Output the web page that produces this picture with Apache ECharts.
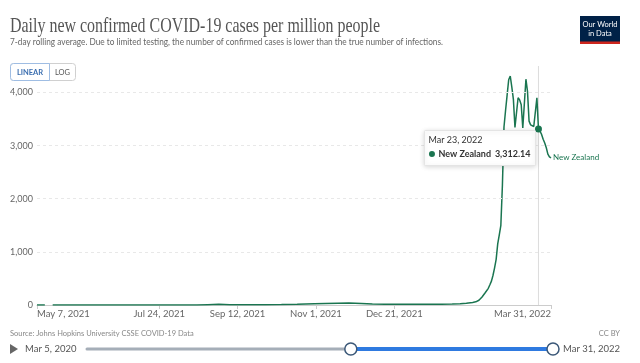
<!DOCTYPE html>
<html><head><meta charset="utf-8">
<script src="https://cdn.jsdelivr.net/npm/echarts@6/dist/echarts.min.js"></script>
<style>html,body{margin:0;padding:0;background:#fff}#c{width:640px;height:363px}</style>
</head><body><div id="c"></div>
<script>
// ---------------- DATA ----------------
const seriesName = 'New Zealand';
const dates = [
 '2021-05-07','2021-05-12','2021-05-14','2021-05-17','2021-06-01','2021-06-20','2021-07-10','2021-07-24',
 '2021-08-10','2021-08-17','2021-08-24','2021-08-31','2021-09-07','2021-09-12','2021-09-20','2021-09-30',
 '2021-10-10','2021-10-20','2021-10-31','2021-11-07','2021-11-15','2021-11-22','2021-11-30','2021-12-07',
 '2021-12-15','2021-12-21','2021-12-31','2022-01-10','2022-01-20','2022-01-27','2022-02-01','2022-02-05',
 '2022-02-09','2022-02-11','2022-02-13','2022-02-15','2022-02-17','2022-02-19','2022-02-20','2022-02-21',
 '2022-02-22','2022-02-23','2022-02-24','2022-02-25','2022-02-26','2022-02-27','2022-02-28','2022-03-01',
 '2022-03-02','2022-03-03','2022-03-04','2022-03-05','2022-03-06','2022-03-07','2022-03-08','2022-03-09',
 '2022-03-10','2022-03-11','2022-03-12','2022-03-13','2022-03-14','2022-03-15','2022-03-16','2022-03-17',
 '2022-03-18','2022-03-19','2022-03-20','2022-03-21','2022-03-22','2022-03-23','2022-03-24','2022-03-25',
 '2022-03-26','2022-03-27','2022-03-28','2022-03-29','2022-03-30','2022-03-31'
];
const values = [
 0.5, 0.4, null, 0.4, 0.3, 0.4, 0.5, 0.3,
 0.4, 0.5, 6, 12, 5, 4, 4, 5,
 8, 15, 25, 30, 35, 36, 30, 18,
 16, 15, 12, 14, 15, 20, 25, 35,
 48, 60, 90, 150, 230, 314, 380, 450,
 560, 700, 860, 1150, 1320, 1500, 2260, 3350,
 3660, 3950, 4240, 4310, 4100, 3870, 3340, 3330,
 3900, 3860, 3770, 3330, 3340, 4250, 4020, 3460,
 3390, 3370, 3360, 3350, 3900, 3312.14, 3270, 3210,
 3120, 3050, 2960, 2840, 2790, 2770
];
const xTickDates = ['2021-05-07','2021-07-24','2021-09-12','2021-11-01','2021-12-21','2022-03-31'];
const yTicks = [0, 1000, 2000, 3000, 4000];
const xMin = '2021-05-07', xMax = '2022-03-31';
const tooltipDate = '2022-03-23';
const timelineMin = '2020-03-05', timelineMax = '2022-03-31';

// ---------------- HELPERS ----------------
const MONTHS = ['Jan','Feb','Mar','Apr','May','Jun','Jul','Aug','Sep','Oct','Nov','Dec'];
function ts(s){ const p = s.split('-').map(Number); return new Date(p[0], p[1]-1, p[2]).getTime(); }
function fmtDate(t){ const d = new Date(t); return MONTHS[d.getMonth()] + ' ' + d.getDate() + ', ' + d.getFullYear(); }
function measure(text, font){ const c = document.createElement('canvas').getContext('2d'); c.font = font; return c.measureText(text).width; }

const LINE = '#1a7550';
const FONT = 'Lato';
const yMax = Math.max.apply(null, values.filter(v => v != null));
const data = dates.map((d, i) => [ts(d), values[i]]);

const chart = echarts.init(document.getElementById('c'), null, {renderer: 'canvas'});
chart.setOption({
  animation: false,
  backgroundColor: '#fff',
  grid: {left: 37, right: 89, top: 76, bottom: 58, containLabel: false, outerBoundsMode: 'none'},
  xAxis: {
    type: 'value', min: ts(xMin), max: ts(xMax), scale: true,
    axisLine: {show: true, lineStyle: {color: '#ccc', width: 1}},
    axisTick: {show: true, length: 4, customValues: xTickDates.map(ts), lineStyle: {color: '#ccc'}},
    axisLabel: {customValues: xTickDates.map(ts), formatter: v => fmtDate(v), color: '#666',
      fontFamily: FONT, fontSize: 9.5, margin: 4, alignMinLabel: 'left', alignMaxLabel: 'right',
      hideOverlap: false},
    splitLine: {show: false}
  },
  yAxis: {
    type: 'value', min: 0, max: yMax, interval: 1000,
    axisLine: {show: false}, axisTick: {show: false},
    axisLabel: {showMaxLabel: false, formatter: v => v.toLocaleString('en-US'), color: '#666',
      fontFamily: FONT, fontSize: 9, margin: 4},
    splitLine: {show: false}
  },
  series: [{
    name: seriesName, type: 'line', data: data, showSymbol: false, connectNulls: false,
    lineStyle: {color: LINE, width: 1.5}, itemStyle: {color: LINE},
    endLabel: {show: true, formatter: seriesName, color: LINE, fontFamily: FONT, fontSize: 8, distance: 2},
    markLine: {
      silent: true, symbol: 'none', label: {show: false}, animation: false,
      lineStyle: {color: '#e8e8e8', type: [3, 3], width: 1},
      data: yTicks.filter(v => v > 0).map(v => ({yAxis: v}))
    },
    z: 3
  }]
});

// ---------------- OVERLAYS ----------------
const tipVal = values[dates.indexOf(tooltipDate)];
const P = chart.convertToPixel({gridIndex: 0}, [ts(tooltipDate), tipVal]);
const base = chart.convertToPixel({gridIndex: 0}, [ts(tooltipDate), 0]);

const titleText = 'Daily new confirmed COVID-19 cases per million people';
const titleFont = '21px "Liberation Serif"';
const titleScale = 370 / measure(titleText, titleFont);
const subText = '7-day rolling average. Due to limited testing, the number of confirmed cases is lower than the true number of infections.';
const subFont = '9px Lato';
const subScale = 433 / measure(subText, subFont);

const tlX0 = 87, tlX1 = 553, tlY = 349;
function tlPos(s){ return tlX0 + (ts(s) - ts(timelineMin)) / (ts(timelineMax) - ts(timelineMin)) * (tlX1 - tlX0); }
const hL = tlPos(xMin), hR = tlPos(xMax);

const bx = P[0] - 114, by = P[1] + 1.5;
const graphics = [
  {type: 'text', x: 10, y: 26, scaleX: titleScale, z: 10,
   style: {text: titleText, font: titleFont, fill: '#555', verticalAlign: 'middle'}},
  {type: 'text', x: 10, y: 42, scaleX: subScale, z: 10,
   style: {text: subText, font: subFont, fill: '#666', verticalAlign: 'middle'}},
  {type: 'rect', shape: {x: 10.5, y: 63.5, width: 65, height: 17, r: 3}, style: {fill: '#fff', stroke: '#d0d0d0', lineWidth: 1}, z: 10},
  {type: 'rect', shape: {x: 10.5, y: 63.5, width: 39, height: 17, r: [3, 0, 0, 3]}, style: {fill: '#fff', stroke: '#9fbde3', lineWidth: 1}, z: 11},
  {type: 'text', x: 30, y: 72.5, z: 12, style: {text: 'LINEAR', font: 'bold 7.5px Lato', fill: '#3c6fb0', align: 'center', verticalAlign: 'middle'}},
  {type: 'text', x: 62.5, y: 72.5, z: 12, style: {text: 'LOG', font: '7.5px Lato', fill: '#555', align: 'center', verticalAlign: 'middle'}},
  {type: 'rect', shape: {x: 580, y: 16, width: 40, height: 28}, style: {fill: '#002147'}, z: 10},
  {type: 'rect', shape: {x: 580, y: 41.5, width: 40, height: 2.5}, style: {fill: '#ce261e'}, z: 11},
  {type: 'text', x: 600, y: 24.5, z: 12, style: {text: 'Our World', font: '7.5px Lato', fill: '#fff', align: 'center', verticalAlign: 'middle'}},
  {type: 'text', x: 600, y: 33.5, z: 12, style: {text: 'in Data', font: '7.5px Lato', fill: '#fff', align: 'center', verticalAlign: 'middle'}},
  {type: 'line', shape: {x1: P[0], y1: 66, x2: P[0], y2: base[1]}, style: {stroke: '#dcdcdc', lineWidth: 1}, z: 1},
  {type: 'circle', shape: {cx: P[0], cy: P[1], r: 3.5}, style: {fill: LINE}, z: 20},
  {type: 'rect', shape: {x: bx, y: by, width: 111, height: 35, r: 1},
   style: {fill: '#fff', stroke: '#e4e4e4', lineWidth: 1, shadowBlur: 5, shadowColor: 'rgba(0,0,0,0.15)', shadowOffsetY: 1}, z: 30},
  {type: 'text', x: bx + 4, y: by + 9.5, z: 31, style: {text: fmtDate(ts(tooltipDate)), font: '9px Lato', fill: '#333', verticalAlign: 'middle'}},
  {type: 'circle', shape: {cx: bx + 7.5, cy: by + 23.5, r: 3}, style: {fill: LINE}, z: 31},
  {type: 'text', x: bx + 14, y: by + 23.5, z: 31, style: {text: seriesName, font: 'bold 9px Lato', fill: '#333', verticalAlign: 'middle'}},
  {type: 'text', x: bx + 106, y: by + 23.5, z: 31, style: {text: tipVal.toLocaleString('en-US', {minimumFractionDigits: 2, maximumFractionDigits: 2}), font: 'bold 9px Lato', fill: '#333', align: 'right', verticalAlign: 'middle'}},
  {type: 'text', x: 10, y: 334, z: 10, style: {text: 'Source: Johns Hopkins University CSSE COVID-19 Data', font: '7.5px Lato', fill: '#888', verticalAlign: 'middle'}},
  {type: 'text', x: 620, y: 334, z: 10, style: {text: 'CC BY', font: '7.5px Lato', fill: '#888', align: 'right', verticalAlign: 'middle'}},
  {type: 'polygon', shape: {points: [[10, 344], [10, 354], [18, 349]]}, style: {fill: '#666'}, z: 10},
  {type: 'text', x: 25, y: tlY, z: 10, style: {text: fmtDate(ts(timelineMin)), font: '9.5px Lato', fill: '#555', verticalAlign: 'middle'}},
  {type: 'line', shape: {x1: tlX0, y1: tlY, x2: hL, y2: tlY}, style: {stroke: '#a5aeb8', lineWidth: 3, lineCap: 'round'}, z: 10},
  {type: 'line', shape: {x1: hL, y1: tlY, x2: hR, y2: tlY}, style: {stroke: '#2f7ae0', lineWidth: 4}, z: 11},
  {type: 'circle', shape: {cx: hL, cy: tlY, r: 6}, style: {fill: '#fff', stroke: '#3b5878', lineWidth: 1.5}, z: 12},
  {type: 'circle', shape: {cx: hR, cy: tlY, r: 6}, style: {fill: '#fff', stroke: '#3b5878', lineWidth: 1.5}, z: 12},
  {type: 'text', x: hR + 10, y: tlY, z: 10, style: {text: fmtDate(ts(timelineMax)), font: '9.5px Lato', fill: '#555', verticalAlign: 'middle'}}
];
chart.setOption({graphic: graphics});
</script></body></html>
